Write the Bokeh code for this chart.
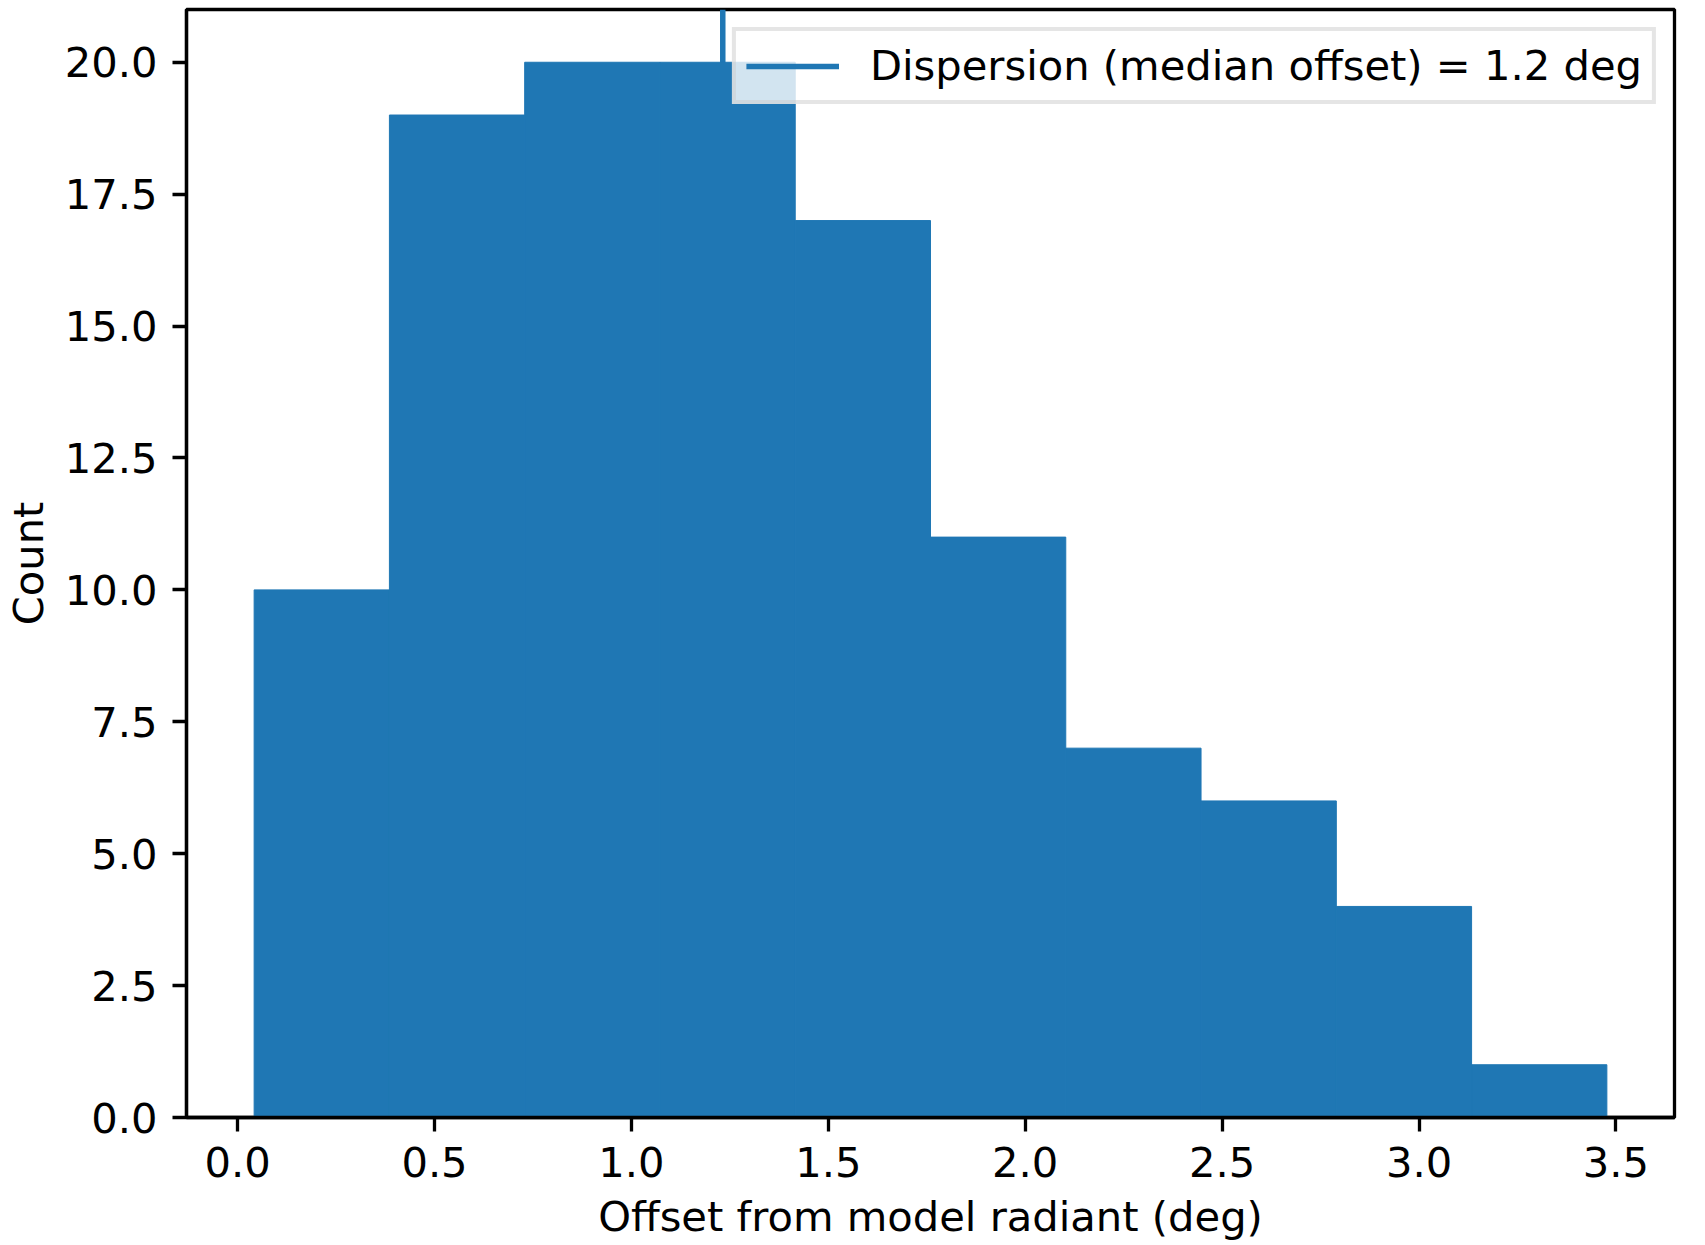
from bokeh.plotting import figure
from bokeh.models import Range1d, FixedTicker, NumeralTickFormatter, Legend, LegendItem
from bokeh.embed import file_html
from bokeh.resources import INLINE

# Histogram data
bin_edges = [0.042, 0.3855, 0.729, 1.0725, 1.416, 1.7595, 2.103, 2.4465, 2.79, 3.1335, 3.477]
counts = [10, 19, 20, 20, 17, 11, 7, 6, 4, 1]
median_offset = 1.232
legend_label = "Dispersion (median offset) = 1.2 deg"
x_ticks = [0.0, 0.5, 1.0, 1.5, 2.0, 2.5, 3.0, 3.5]
y_ticks = [0.0, 2.5, 5.0, 7.5, 10.0, 12.5, 15.0, 17.5, 20.0]

FONT = "DejaVu Sans"
FS = "41.67px"
BLUE = "#1f77b4"

span = bin_edges[-1] - bin_edges[0]
x0 = bin_edges[0] - 0.05 * span
x1 = bin_edges[-1] + 0.05 * span
ymax = max(counts) * 1.05

p = figure(output_backend="svg", toolbar_location=None,
           x_range=Range1d(x0, x1), y_range=Range1d(0, ymax),
           frame_width=1488, frame_height=1108,
           min_border_left=180, min_border_right=21, min_border_top=9, min_border_bottom=0)

p.grid.visible = False
p.background_fill_color = "white"
p.border_fill_color = "white"
p.outline_line_color = "black"
p.outline_line_width = 3.3

vl = p.line(x=[median_offset, median_offset], y=[0, ymax], line_color=BLUE, line_width=5.5)
p.quad(left=bin_edges[:-1], right=bin_edges[1:], bottom=0, top=counts,
       fill_color=BLUE, line_color=BLUE, line_width=1)

for ax in (p.xaxis[0], p.yaxis[0]):
    ax.axis_line_width = 3.3
    ax.major_tick_line_width = 3.3
    ax.major_tick_out = 14
    ax.major_tick_in = 0
    ax.minor_tick_line_color = None
    ax.major_label_text_font = FONT
    ax.major_label_text_font_size = FS
    ax.major_label_text_color = "black"
    ax.axis_label_text_font = FONT
    ax.axis_label_text_font_size = FS
    ax.axis_label_text_font_style = "normal"
    ax.axis_label_text_color = "black"
    ax.formatter = NumeralTickFormatter(format="0.0")

p.xaxis[0].ticker = FixedTicker(ticks=x_ticks)
p.yaxis[0].ticker = FixedTicker(ticks=y_ticks)
p.xaxis[0].axis_label = "Offset from model radiant (deg)"
p.yaxis[0].axis_label = "Count"
p.xaxis[0].major_label_standoff = 15
p.yaxis[0].major_label_standoff = 15
p.xaxis[0].axis_label_standoff = 12
p.yaxis[0].axis_label_standoff = 9

legend = Legend(items=[LegendItem(label=legend_label, renderers=[vl])],
                location="top_right", margin=18, padding=10, spacing=0,
                glyph_width=93, glyph_height=30, label_height=30, label_standoff=31,
                label_text_font=FONT, label_text_font_size=FS, label_text_color="black",
                background_fill_color="white", background_fill_alpha=0.8,
                border_line_color="#cccccc", border_line_width=4)
p.add_layout(legend)

open("out.html", "w").write(file_html(p, INLINE))
